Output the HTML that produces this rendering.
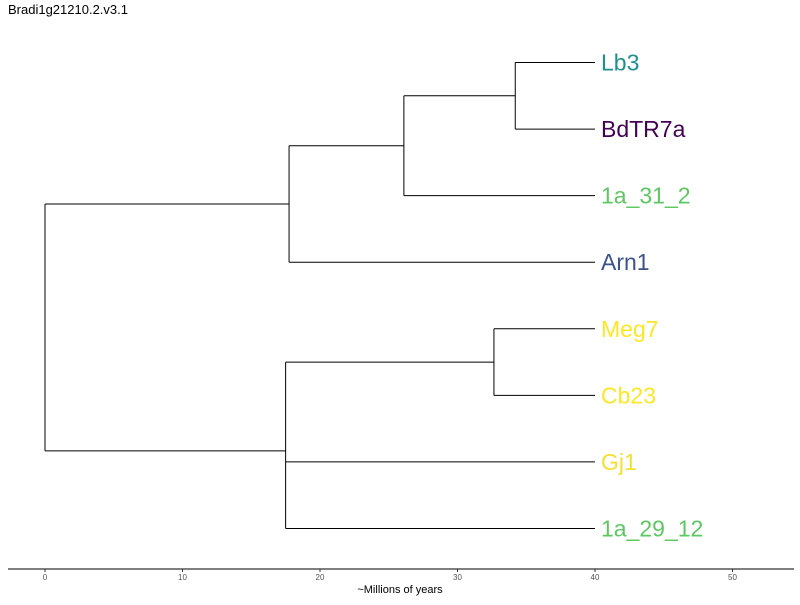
<!DOCTYPE html>
<html><head><meta charset="utf-8"><style>
body{margin:0;background:#fff;font-family:"Liberation Sans",sans-serif}
</style></head><body>
<svg id="chart" width="800" height="600" xmlns="http://www.w3.org/2000/svg">
<text x="8" y="14" font-size="13" fill="#000">Bradi1g21210.2.v3.1</text>
<line x1="8" y1="569" x2="794" y2="569" stroke="#333" stroke-width="1.2"/>
<text x="400" y="593" font-size="11" text-anchor="middle" fill="#000">~Millions of years</text>
<g id="ticks"></g><g id="tree"></g><g id="labels"></g>
</svg>
<script>
const tipNames=["Lb3","BdTR7a","1a_31_2","Arn1","Meg7","Cb23","Gj1","1a_29_12"];
const tipColors=["#21908C","#440154","#5DC863","#3B528B","#FDE725","#FDE725","#F5E032","#5DC863"];
const tipTime=40;
const nodeNames=["C","B","A","D","E","root"];
const nodeTimes=[34.2,26.1,17.75,32.65,17.5,0];
const nodeChildren=[[0,1],["C",2],["B",3],[4,5],["D",6,7],["A","E"]];
const tickValues=[0,10,20,30,40,50];
const ns="http://www.w3.org/2000/svg";
const xs=t=>45+t*13.75;
const ys=i=>62.5+i*66.57;
function mk(tag,attrs,parent){const e=document.createElementNS(ns,tag);for(const k in attrs)e.setAttribute(k,attrs[k]);document.getElementById(parent).appendChild(e);return e;}
tickValues.forEach(v=>{
  const l=mk("line",{x1:xs(v),x2:xs(v),y1:569,y2:572,stroke:"#333"},"ticks");
  
  
  const t=mk("text",{x:xs(v),y:580,"font-size":8,"text-anchor":"middle",fill:"#555"},"ticks");
  t.textContent=v;
  
  
});
const nodeY={};
function posOf(c){return typeof c==="number"?{x:xs(tipTime),y:ys(c)}:{x:xs(nodeTimes[nodeNames.indexOf(c)]),y:nodeY[c]};}
nodeNames.forEach((n,i)=>{
  const kids=nodeChildren[i].map(posOf);
  const ysK=kids.map(k=>k.y);
  const x=xs(nodeTimes[i]);
  nodeY[n]=ysK.reduce((a,b)=>a+b,0)/ysK.length;
  const v=mk("line",{x1:x,x2:x,y1:Math.min(...ysK),y2:Math.max(...ysK),stroke:"#000","stroke-width":1},"tree");
  
  
  kids.forEach(k=>{
    const h=mk("line",{x1:x,x2:k.x,y1:k.y,y2:k.y,stroke:"#000","stroke-width":1},"tree");
    
    
  });
});
tipNames.forEach((n,i)=>{
  const t=mk("text",{x:xs(tipTime)+6,y:ys(i)+8,"font-size":23,fill:tipColors[i]},"labels");
  t.textContent=n;
  
  
});
</script>
</body></html>
